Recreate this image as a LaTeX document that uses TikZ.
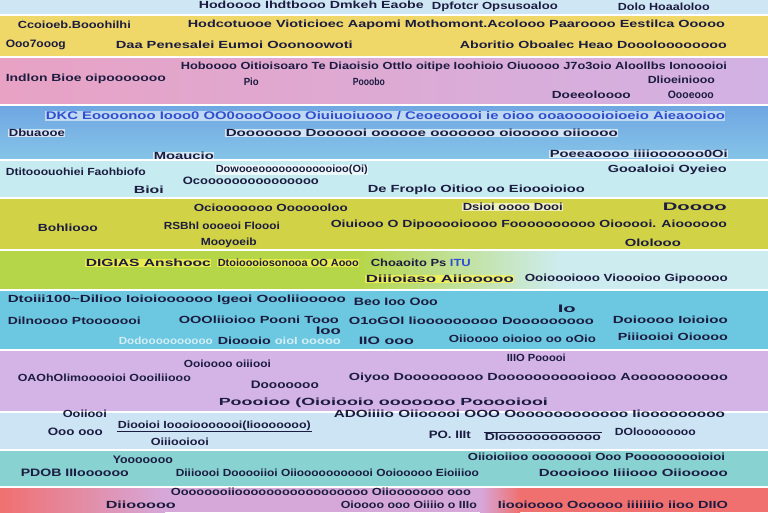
\documentclass[tikz,border=0pt]{standalone}
\usepackage{fontspec}
\setmainfont{Liberation Sans}
\usepackage{graphicx}
\definecolor{ink}{HTML}{1C1C40}
\definecolor{bluink}{HTML}{2F4FD0}
\definecolor{bTop}{HTML}{CFE7F5}
\definecolor{bYel}{HTML}{F0D868}
\definecolor{bPinkL}{HTML}{E8A2C4}
\definecolor{bPinkR}{HTML}{D2B2E4}
\definecolor{bBlueT}{HTML}{6EA6E2}
\definecolor{bBlueB}{HTML}{86C4E8}
\definecolor{bCyanL}{HTML}{C6ECF2}
\definecolor{bYG}{HTML}{D2D246}
\definecolor{bLime}{HTML}{B6D64A}
\definecolor{bPale}{HTML}{CDECEF}
\definecolor{bCyan}{HTML}{6CC8E0}
\definecolor{bLav}{HTML}{D4B4E6}
\definecolor{bLB}{HTML}{CCE4F4}
\definecolor{bTeal}{HTML}{88D2D2}
\definecolor{bRed}{HTML}{F07070}
\definecolor{bMid}{HTML}{D6A8DA}
\tikzset{
  txt/.style={inner sep=0.6pt, text=ink, font=\bfseries},
  hl/.style={fill=white, fill opacity=.65, text opacity=1},
  hy/.style={fill=yellow!70!white, fill opacity=.7, text opacity=1},
  faded/.style={text=white, text opacity=.7},
  sep/.style={white, line width=1.2pt}
}
\newcommand\tx[6][]{\node[txt,anchor=west,#1] (#2) at (#3,#4) {\resizebox{#5pt}{7.5pt}{#6}};}
\begin{document}
\begin{tikzpicture}[x=1pt,y=-1pt]
\useasboundingbox (0,0) rectangle (768,512);
% bands
\fill[bTop] (0,0) rectangle (768,15);
\fill[bYel] (0,15) rectangle (768,57);
\shade[left color=bPinkL,right color=bPinkR] (0,57) rectangle (768,105);
\shade[top color=bBlueT,bottom color=bBlueB] (0,105) rectangle (768,160);
\fill[bCyanL] (0,160) rectangle (768,198);
\fill[bYG] (0,198) rectangle (768,250);
\fill[bLime] (0,250) rectangle (360,290);
\shade[left color=bLime,right color=bPale] (360,250) rectangle (560,290);
\fill[bPale] (560,250) rectangle (768,290);
\fill[bCyan] (0,290) rectangle (768,350);
\fill[bLav] (0,350) rectangle (768,412);
\fill[bLB] (0,412) rectangle (768,450);
\fill[bTeal] (0,450) rectangle (768,487);
\fill[bRed] (0,487) rectangle (768,512);
\shade[left color=bRed,right color=bMid] (0,487) rectangle (165,512);
\fill[bMid] (165,487) rectangle (480,512);
\shade[left color=bMid,right color=bRed] (480,487) rectangle (520,512);
\foreach \yy in {15,57,105,160,198,250,290,350,412,450,487}
  \draw[sep] (0,\yy) -- (768,\yy);
% row 0
\tx{a1}{198}{5}{225}{Hodoooo Ihdtbooo Dmkeh Eaobe}
\tx{a2}{431}{7}{126}{Dpfotcr Opsusoaloo}
\tx{a3}{617}{7}{92}{Dolo Hoaaloloo}
% yellow
\tx{b1}{17}{25}{113}{Ccoioeb.Booohilhi}
\tx{b2}{187}{25}{537}{Hodcotuooe Vioticioec Aapomi Mothomont.Acolooo Paaroooo Eestilca Ooooo}
\tx{b3}{5}{45}{60}{Ooo7ooog}
\tx{b4}{115}{45}{237}{Daa Penesalei Eumoi Ooonoowoti}
\tx{b5}{459}{45}{267}{Aboritio Oboalec Heao Doooloooooooo}
% pink
\tx{c1}{180}{67}{546}{Hoboooo Oitioisoaro Te Diaoisio Ottlo oitipe Ioohioio Oiuoooo J7o3oio Aloollbs Ionoooioi}
\tx{c2}{5}{79}{160}{Indlon Bioe oipooooooo}
\tx{c3}{243}{82}{15}{Pio}
\tx{c4}{352}{82}{32}{Pooobo}
\tx{c5}{647}{80}{67}{Dlioeiniooo}
\tx{c6}{551}{95}{79}{Doeeoloooo}
\tx{c7}{667}{95}{46}{Oooeooo}
% blue
\node[txt,anchor=west,fill=white,fill opacity=.55,text opacity=1,text=bluink] (d1) at (45,116) {\resizebox{679pt}{8pt}{DKC Eoooonoo Iooo0 OO0oooOooo Oiuiuoiuooo / Ceoeooooi ie oioo ooaooooioioeio Aieaooioo}};
\tx[hl]{d2}{8}{133}{56}{Dbuaooe}
\tx[hl]{d3}{225}{133}{392}{Dooooooo Doooooi oooooe ooooooo oiooooo oiioooo}
\tx[hl]{d4}{153}{156}{60}{Moaucio}
\tx[hl]{d5}{549}{154}{178}{Poeeaoooo iiiioooooo0Oi}
% light cyan
\tx{e1}{5}{172}{140}{Dtitooouohiei Faohbiofo}
\tx[hl]{e2}{215}{170}{152}{Dowooeoooooooooooioo(Oi)}
\tx{e3}{182}{181}{136}{Ocooooooooooooooo}
\tx{e4}{607}{170}{119}{Gooaloioi Oyeieo}
\tx{e5}{133}{190}{30}{Bioi}
\tx{e6}{367}{190}{217}{De Froplo Oitioo oo Eioooioioo}
% yellow-green
\tx{f1}{193}{208}{154}{Ociooooooo Ooooooloo}
\tx[hl]{f2}{462}{207}{100}{Dsioi oooo Dooi}
\tx{f3}{662}{207}{64}{Doooo}
\tx{f4}{37}{228}{60}{Bohliooo}
\tx{f5}{163}{226}{116}{RSBhl oooeoi Floooi}
\tx{f6}{330}{225}{396}{Oiuiooo O Dipooooioooo Foooooooooo Oiooooi. Aioooooo}
\tx{f7}{200}{243}{56}{Mooyoeib}
\tx{f8}{624}{243}{56}{Ololooo}
% lime
\tx[hy]{g1}{85}{263}{125}{DIGIAS Anshooc}
\tx[hy]{g2}{217}{263}{141}{Dtoioooiosonooa OO Aooo}
\node[txt,anchor=west] (g3) at (370,263) {\resizebox{100pt}{7.5pt}{Choaoito Ps \textcolor{bluink}{ITU}}};
\tx[hy]{g4}{365}{279}{148}{Diiioiaso Aiiooooo}
\tx{g5}{524}{279}{203}{Ooioooiooo Vioooioo Gipooooo}
% cyan
\tx{h1}{7}{300}{338}{Dtoiii100\textasciitilde Dilioo Ioioioooooo Igeoi Oooliiooooo}
\tx{h2}{353}{302}{84}{Beo Ioo Ooo}
\tx{h3}{557}{309}{18}{Io}
\tx{h4}{7}{321}{133}{Dilnoooo Ptooooooi}
\tx{h5}{178}{320}{160}{OOOliioioo Pooni Tooo}
\tx{h6}{348}{321}{245}{O1oGOl liooooooooo Dooooooooo}
\tx{h7}{612}{320}{115}{Doioooo Ioioioo}
\tx{h8}{315}{331}{25}{Ioo}
\tx[faded]{h9}{118}{341}{94}{Dodoooooooooo}
\tx[faded]{h9b}{274}{341}{66}{oioI ooooo}
\tx{h10}{217}{341}{53}{Dioooio}
\tx{h11}{358}{341}{55}{IIO ooo}
\tx{h12}{448}{339}{147}{Oiioooo oioioo oo oOio}
\tx{h13}{617}{337}{110}{Piiiooioi Oioooo}
% lavender
\tx{i1}{183}{364}{87}{Ooioooo oiiiooi}
\tx{i2}{506}{358}{59}{IIIO Pooooi}
\tx{i3}{17}{378}{173}{OAOhOlimooooioi Oooiliiooo}
\tx{i4}{348}{378}{379}{Oiyoo Dooooooooo Dooooooooooiooo Aooooooooooo}
\tx{i5}{250}{385}{68}{Dooooooo}
\tx{i6}{218}{403}{329}{Poooioo (Oioiooio ooooooo Pooooiooi}
% light blue
\tx{j1}{62}{414}{44}{Ooiiooi}
\tx{j2}{333}{414}{391}{ADOiiiio Oiiooooi OOO Ooooooooooooo Iiooooooooo}
\tx{j3}{47}{432}{55}{Ooo ooo}
\tx{j4}{117}{426}{193}{Diooioi Ioooiooooooi(Iiooooooo)}
\draw[ink,line width=.6pt] (j4.south west) -- (j4.south east);
\tx{j5}{428}{435}{42}{PO. IIIt}
\tx{j6}{484}{437}{116}{Dloooooooooooo}
\draw[ink,line width=.6pt] (j6.north west) -- (j6.north east);
\tx{j7}{614}{432}{81}{DOloooooooo}
\tx{j8}{150}{442}{58}{Oiiiooiooi}
% teal
\tx{k1}{112}{460}{60}{Yooooooo}
\tx{k2}{467}{457}{257}{Oiioioiioo oooooooi Ooo Pooooooooioioi}
\tx{k3}{20}{473}{108}{PDOB IIIoooooo}
\tx{k4}{175}{473}{303}{Diiioooi Dooooiioi Oiiooooooooooi Ooiooooo Eioiiioo}
\tx{k5}{538}{473}{189}{Doooiooo Iiiiooo Oiiooooo}
% bottom
\tx{l1}{170}{492}{300}{Oooooooiiooooooooooooooooo Oiiooooooo ooo}
\tx{l2}{105}{505}{70}{Diiooooo}
\tx{l3}{340}{505}{136}{Oioooo ooo Oiiiio o IIIo}
\tx{l4}{497}{505}{230}{Iiooioooo Oooooo iiiiiiio iioo DIIO}
\end{tikzpicture}
\end{document}
